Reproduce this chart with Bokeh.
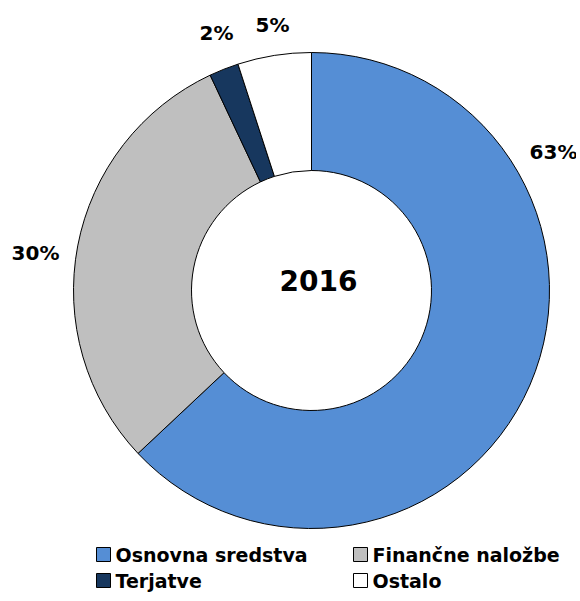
import math
from bokeh.plotting import figure
from bokeh.models import Range1d, ColumnDataSource
from bokeh.core.properties import value
from bokeh.embed import file_html
from bokeh.resources import INLINE

categories = ["Osnovna sredstva", "Finančne naložbe", "Terjatve", "Ostalo"]
shares = [63, 30, 2, 5]
labels = ["63%", "30%", "2%", "5%"]
colors = ["#558ED5", "#BFBFBF", "#17375E", "#FFFFFF"]
center_title = "2016"

# layout (pixel-like coordinates, y measured upward from bottom of 601px window)
W, H = 576, 597
cx, cy = 311, 601 - 290
r_out, r_in = 238, 120
label_pos = [(553, 601 - 151), (35, 601 - 252), (216, 601 - 32), (272, 601 - 24)]

p = figure(width=W, height=H, output_backend="svg", toolbar_location=None,
           x_range=Range1d(0, W), y_range=Range1d(601 - H, 601),
           min_border=0, outline_line_color=None)
p.axis.visible = False
p.grid.visible = False
p.background_fill_color = "white"
p.border_fill_color = "white"

total = sum(shares)
starts, ends = [], []
acc = 0.0
for s in shares:
    a0 = math.pi / 2 - 2 * math.pi * acc / total
    acc += s
    a1 = math.pi / 2 - 2 * math.pi * acc / total
    starts.append(a0)
    ends.append(a1)

src = ColumnDataSource(dict(cat=categories, start=starts, end=ends, color=colors,
                            x=[cx] * 4, y=[cy] * 4))
p.annular_wedge(x="x", y="y", inner_radius=r_in, outer_radius=r_out,
                start_angle="start", end_angle="end", direction="clock",
                fill_color="color", line_color="black", line_width=1, source=src)

p.text(x=[lp[0] for lp in label_pos], y=[lp[1] for lp in label_pos], text=labels,
       text_font=value("DejaVu Sans"), text_font_style="bold", text_font_size="20px",
       text_align="center", text_baseline="middle", text_color="black")

p.text(x=[318], y=[601 - 280], text=[center_title], text_font=value("DejaVu Sans"),
       text_font_style="bold", text_font_size="28px", text_align="center",
       text_baseline="middle", text_color="black")

# legend
lx = [103, 360, 103, 360]
ly = [601 - 554, 601 - 554, 601 - 580, 601 - 580]
p.rect(x=lx, y=ly, width=14, height=14, fill_color=colors, line_color="black", line_width=1)
p.text(x=[v + 12 for v in lx], y=ly, text=categories, text_font=value("DejaVu Sans"),
       text_font_style="bold", text_font_size="19px", text_align="left",
       text_baseline="middle", text_color="black")

open("out.html", "w").write(file_html(p, INLINE))
